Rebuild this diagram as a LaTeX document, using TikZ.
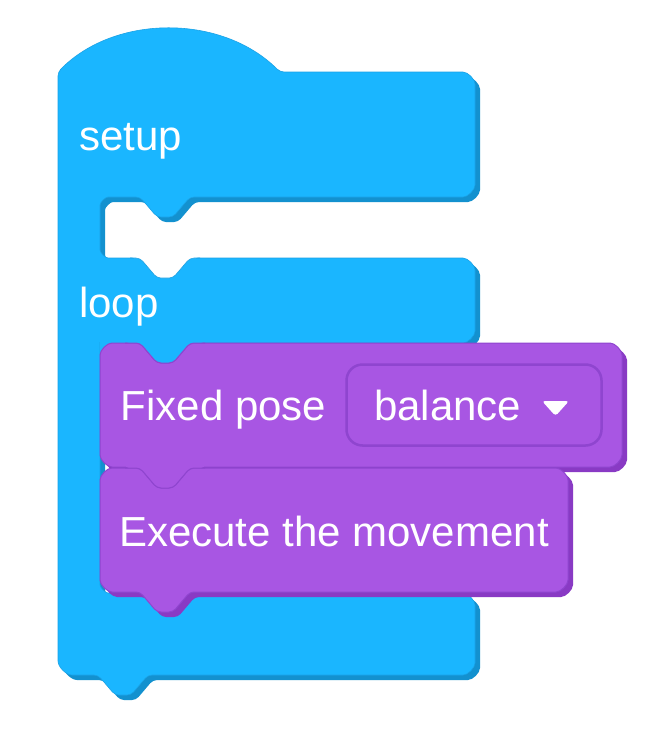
\documentclass[tikz,border=0pt]{standalone}
\usepackage{fontspec}
\setmainfont{Liberation Sans}
\definecolor{bluemain}{HTML}{1AB6FF}
\definecolor{bluedark}{HTML}{1391CF}
\definecolor{blueline}{HTML}{1AA2E6}
\definecolor{purpmain}{HTML}{A856E3}
\definecolor{purpdark}{HTML}{893AC4}
\definecolor{purpline}{HTML}{8F45CF}
\newcommand\bluepathdo[1]{%
\path[#1,rounded corners=4]
 (58,72) .. controls (115,14) and (222,14) .. (280,72)
 -- (459,72) arc[start angle=-90,end angle=0,radius=16]
 -- (475,181) arc[start angle=0,end angle=90,radius=16]
 -- (190,197) -- (173,217) -- (157,217) -- (140,197)
 -- (112,197) arc[start angle=-90,end angle=-180,radius=12]
 -- (100,246) arc[start angle=180,end angle=90,radius=12]
 -- (140,258) -- (157,278) -- (173,278) -- (190,258)
 -- (459,258) arc[start angle=-90,end angle=0,radius=16]
 -- (475,327) arc[start angle=0,end angle=90,radius=16]
 -- (190,343) -- (173,363) -- (157,363) -- (140,343)
 -- (104,343) arc[start angle=-90,end angle=-180,radius=4]
 -- (100,581) arc[start angle=180,end angle=90,radius=12]
 -- (459,593) arc[start angle=-90,end angle=0,radius=16]
 -- (475,659) arc[start angle=0,end angle=90,radius=16]
 -- (148,675) -- (131,695) -- (115,695) -- (98,675)
 -- (76,675) arc[start angle=90,end angle=180,radius=18]
 -- cycle;}
\newcommand\blockonedo[1]{%
\path[#1,rounded corners=4]
 (300,343)
 -- (606,343) arc[start angle=-90,end angle=0,radius=16]
 -- (622,451) arc[start angle=0,end angle=90,radius=16]
 -- (190,467) -- (173,487) -- (157,487) -- (140,467)
 -- (116,467) arc[start angle=90,end angle=180,radius=16]
 -- (100,359) arc[start angle=180,end angle=270,radius=16]
 -- (140,343) -- (157,363) -- (173,363) -- (190,343)
 -- cycle;}
\newcommand\blocktwodo[1]{%
\path[#1,rounded corners=4]
 (300,468)
 -- (552,468) arc[start angle=-90,end angle=0,radius=16]
 -- (568,576) arc[start angle=0,end angle=90,radius=16]
 -- (190,592) -- (173,612) -- (157,612) -- (140,592)
 -- (116,592) arc[start angle=90,end angle=180,radius=16]
 -- (100,484) arc[start angle=180,end angle=270,radius=16]
 -- (140,468) -- (157,488) -- (173,488) -- (190,468)
 -- cycle;}
\begin{document}
\begin{tikzpicture}[x=1pt,y=-1pt,
  lbl/.style={anchor=base west,inner sep=0pt,text=white,font=\fontsize{42}{48}\selectfont}]
\useasboundingbox[fill=white] (0,0) rectangle (668,736);
% blue C block
\bluepathdo{fill=bluedark,shift={(5,5)}}
\bluepathdo{fill=bluemain,draw=blueline,line width=0.6}
% clean white notch in first mouth
\fill[white,rounded corners=4] (130,250) -- (130,258) -- (140,258) -- (157,278) -- (173,278) -- (190,258) -- (200,258) -- (200,250) -- cycle;
\draw[blueline,line width=0.6,rounded corners=4] (130,258) -- (140,258) -- (157,278) -- (173,278) -- (190,258) -- (200,258);
% light blue behind top-left corner of first statement
\fill[bluemain] (99.7,336) rectangle (130,362);
% purple block 1
\blockonedo{fill=purpdark,shift={(5,5)}}
\blockonedo{fill=purpmain,draw=purpline,line width=1}
% purple block 2
\blocktwodo{fill=purpdark,shift={(5,5)}}
\blocktwodo{fill=purpmain,draw=purpline,line width=1}
% notch fills
\fill[bluemain,rounded corners=4] (125,335) -- (125,343) -- (140,343) -- (157,363) -- (173,363) -- (190,343) -- (205,343) -- (205,335) -- cycle;
\draw[purpline,line width=1,rounded corners=4] (125,343) -- (140,343) -- (157,363) -- (173,363) -- (190,343) -- (205,343);
\fill[purpmain,rounded corners=4] (125,460) -- (125,468) -- (140,468) -- (157,488) -- (173,488) -- (190,468) -- (205,468) -- (205,460) -- cycle;
\draw[purpline,line width=1,rounded corners=4] (125,468) -- (140,468) -- (157,488) -- (173,488) -- (190,468) -- (205,468);
% dropdown
\draw[purpline,line width=2.5,rounded corners=16] (346.5,364.5) rectangle (601.5,445.5);
\fill[white,rounded corners=3] (542,401) -- (569,401) -- (555.5,416) -- cycle;
% texts
\node[lbl] (setup) at (79,150) {setup};
\node[lbl] (loop) at (79,317) {loop};
\node[lbl] (fixed) at (120.5,420) {Fixed pose};
\node[lbl] (bal) at (374,420) {balance};
\node[lbl] (exec) at (119,546.5) {Execute the movement};
\end{tikzpicture}
\end{document}
